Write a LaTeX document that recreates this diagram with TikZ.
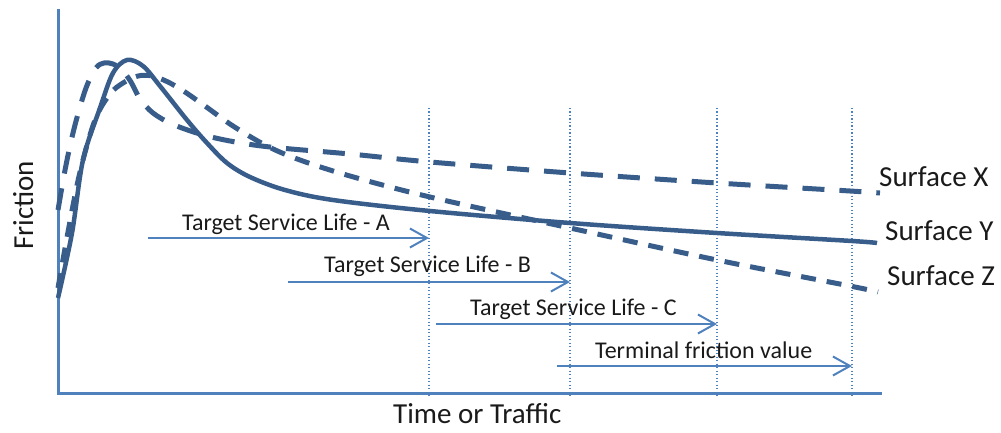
\documentclass[tikz,border=0pt]{standalone}
\usepackage{fontspec}
\setmainfont{Carlito}
\usetikzlibrary{arrows.meta}
\definecolor{curve}{HTML}{385D8A}
\definecolor{axis}{HTML}{4F81BD}
\definecolor{txt}{HTML}{1A1A1A}
\begin{document}
\begin{tikzpicture}[x=1pt,y=-1pt,
  axisline/.style={draw=axis,line width=3pt},
  guide/.style={draw=axis,line width=1.3pt,dash pattern=on 1.3pt off 2.2pt},
  lifearrow/.style={draw=axis,line width=2pt,-{Straight Barb[length=17pt,width=19pt,line width=2pt]}},
  curveX/.style={draw=curve,line width=5pt,dash pattern=on 22pt off 15pt},
  curveY/.style={draw=curve,line width=4.5pt},
  curveZ/.style={draw=curve,line width=5pt,dash pattern=on 15pt off 11pt},
  small/.style={font=\fontsize{24}{27}\selectfont,text=txt,inner sep=0pt},
  big/.style={font=\fontsize{29}{32}\selectfont,text=txt,inner sep=0pt}]
\useasboundingbox (0,0) rectangle (1001,433);
% axes
\coordinate (origin) at (58,393);
\coordinate (ytop) at (58,9);
\coordinate (xend) at (882,393);
\draw[axisline] (ytop) -- (origin) -- (xend);
% guides
\foreach \n/\x in {a/429,b/570,c/717,d/852}{
  \coordinate (g\n top) at (\x,108);
  \coordinate (g\n bot) at (\x,398);
  \draw[guide] (g\n top) -- (g\n bot);
}
% curves
\draw[curveX] plot[smooth,tension=0.55] coordinates {(58,210) (66,165) (75,125) (86,88) (96,68) (104,63) (113,64) (122,70) (131,82) (140,99) (153,113) (172,124) (200,134) (230,141) (270,147) (350,154) (430,162) (570,173) (717,183) (850,191) (880,193)};
\draw[curveZ] plot[smooth,tension=0.55] coordinates {(58,288) (68,232) (80,172) (95,120) (110,94) (123,83) (138,76) (152,76) (168,82) (185,92) (205,106) (233,126) (267,146) (300,160) (350,176) (430,197) (570,228) (717,260) (850,286) (878,292)};
\draw[curveY] plot[smooth,tension=0.55] coordinates {(58,298) (72,233) (83,160) (100,108) (113,73) (127,60) (143,66) (160,86) (187,120) (207,143) (227,163) (250,177) (285,190) (333,200) (430,211) (570,223) (717,233) (852,241) (877,243)};
% arrows
\coordinate (aS) at (148,238); \coordinate (aE) at (429,238);
\coordinate (bS) at (288,282); \coordinate (bE) at (570,282);
\coordinate (cS) at (436,324); \coordinate (cE) at (717,324);
\coordinate (dS) at (557,366); \coordinate (dE) at (852,366);
\draw[lifearrow] (aS) -- (aE);
\draw[lifearrow] (bS) -- (bE);
\draw[lifearrow] (cS) -- (cE);
\draw[lifearrow] (dS) -- (dE);
\node[small,anchor=base west] (la) at (182,230) {Target Service Life - A};
\node[small,anchor=base west] (lb) at (324,272) {Target Service Life - B};
\node[small,anchor=base west] (lc) at (470,315) {Target Service Life - C};
\node[small,anchor=base west] (ld) at (595,358) {Terminal friction value};
% surface labels
\node[big,anchor=base west] (sx) at (879,186) {Surface X};
\node[big,anchor=base west] (sy) at (885,240) {Surface Y};
\node[big,anchor=base west] (sz) at (887,285) {Surface Z};
% axis titles
\node[big,anchor=base west] (xt) at (393,423) {Time or Traffic};
\node[big,anchor=base west,rotate=90] (yt) at (33,250) {Friction};
\end{tikzpicture}
\end{document}
